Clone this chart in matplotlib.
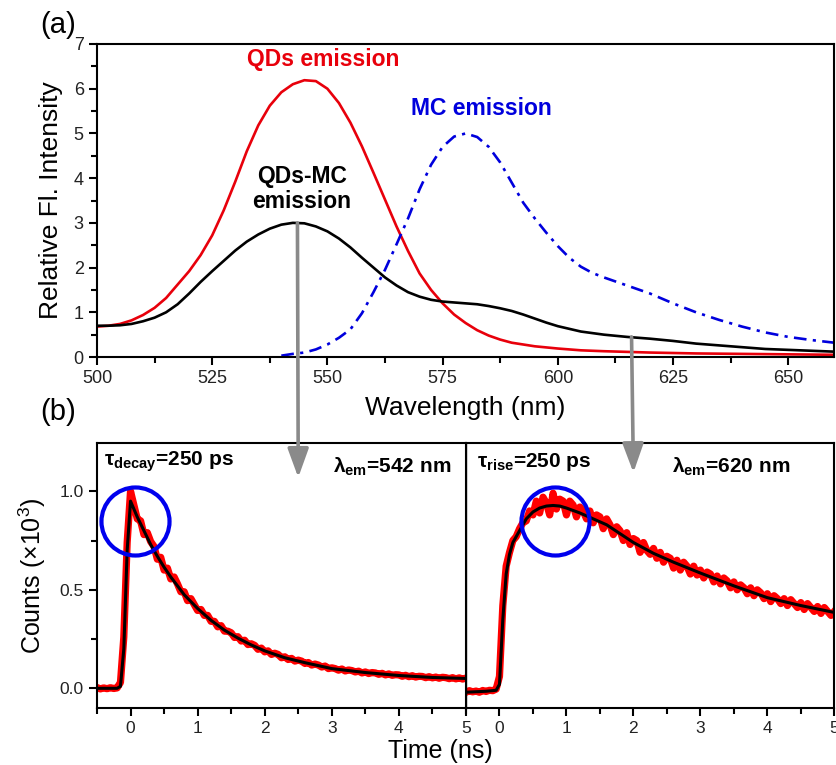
import numpy as np
import matplotlib
matplotlib.use('Agg')
import matplotlib.pyplot as plt
from matplotlib.patches import ConnectionPatch
from matplotlib.ticker import MultipleLocator

plt.rcParams['font.family'] = ['Liberation Sans', 'DejaVu Sans']
plt.rcParams['mathtext.fontset'] = 'custom'
plt.rcParams['mathtext.rm'] = 'Liberation Sans'
plt.rcParams['mathtext.it'] = 'Liberation Sans:italic'
plt.rcParams['mathtext.bf'] = 'Liberation Sans:bold'

# ---- (a) emission spectra ----
qd_wl = [500, 502.5, 505, 507.5, 510, 512.5, 515, 517.5, 520, 522.5, 525, 527.5, 530, 532.5,
         535, 537.5, 540, 542.5, 545, 547.5, 550, 552.5, 555, 557.5, 560, 562.5, 565, 567.5,
         570, 572.5, 575, 577.5, 580, 582.5, 585, 587.5, 590, 595, 600, 605, 610, 620, 630,
         640, 650, 660]
qd_int = [0.68, 0.70, 0.74, 0.82, 0.94, 1.1, 1.32, 1.62, 1.92, 2.28, 2.72, 3.28, 3.92, 4.6,
          5.18, 5.62, 5.92, 6.1, 6.19, 6.17, 6.0, 5.68, 5.24, 4.71, 4.12, 3.52, 2.92, 2.37,
          1.87, 1.5, 1.2, 0.95, 0.76, 0.6, 0.48, 0.39, 0.32, 0.24, 0.19, 0.15, 0.13, 0.1, 0.08,
          0.07, 0.06, 0.05]

mix_wl = [500, 502.5, 505, 507.5, 510, 512.5, 515, 517.5, 520, 522.5, 525, 527.5, 530, 532.5,
          535, 537.5, 540, 542.5, 545, 547.5, 550, 552.5, 555, 557.5, 560, 562.5, 565, 567.5,
          570, 572.5, 575, 577.5, 580, 582.5, 585, 587.5, 590, 592.5, 595, 597.5, 600, 605,
          610, 615, 620, 625, 630, 635, 640, 645, 650, 655, 660]
mix_int = [0.70, 0.70, 0.71, 0.74, 0.80, 0.88, 1.0, 1.18, 1.42, 1.68, 1.92, 2.15, 2.38, 2.58,
           2.74, 2.87, 2.96, 3.0, 2.99, 2.92, 2.81, 2.65, 2.45, 2.22, 2.0, 1.78, 1.6, 1.45,
           1.35, 1.28, 1.24, 1.22, 1.2, 1.18, 1.14, 1.09, 1.03, 0.95, 0.86, 0.77, 0.69, 0.57,
           0.5, 0.45, 0.41, 0.36, 0.3, 0.26, 0.22, 0.18, 0.16, 0.14, 0.12]

mc_wl = [540, 542.5, 545, 547.5, 550, 552.5, 555, 557.5, 560, 562.5, 565, 567.5, 570, 572.5,
         575, 577.5, 580, 582.5, 585, 587.5, 590, 592.5, 595, 597.5, 600, 602.5, 605, 607.5,
         610, 612.5, 615, 620, 625, 630, 635, 640, 645, 650, 655, 660]
mc_int = [0.03, 0.07, 0.1, 0.17, 0.28, 0.43, 0.62, 0.98, 1.45, 1.95, 2.52, 3.1, 3.75, 4.3,
          4.7, 4.93, 5.0, 4.92, 4.7, 4.35, 3.9, 3.45, 3.1, 2.78, 2.48, 2.22, 2.02, 1.88,
          1.78, 1.69, 1.6, 1.42, 1.2, 1.0, 0.83, 0.68, 0.55, 0.45, 0.38, 0.32]

# ---- (b) decay traces, sampled every 50 ps from -0.5 to 5 ns ----
decay_counts = [0.004, -0.003, 0.002, -0.002, 0.003, -0.001, 0.002, 0.03, 0.26, 0.74,
                1.00, 0.93, 0.86, 0.85, 0.78, 0.79, 0.745, 0.72, 0.655, 0.665,
                0.60, 0.61, 0.555, 0.565, 0.53, 0.49, 0.49, 0.445, 0.455, 0.425,
                0.395, 0.40, 0.37, 0.37, 0.34, 0.34, 0.312, 0.318, 0.29, 0.29,
                0.282, 0.258, 0.262, 0.24, 0.244, 0.222, 0.226, 0.218, 0.198, 0.204,
                0.185, 0.19, 0.172, 0.178, 0.172, 0.155, 0.16, 0.146, 0.152, 0.138,
                0.143, 0.138, 0.126, 0.131, 0.118, 0.123, 0.118, 0.108, 0.113, 0.10,
                0.104, 0.10, 0.092, 0.098, 0.088, 0.093, 0.09, 0.083, 0.087, 0.078,
                0.083, 0.075, 0.08, 0.078, 0.071, 0.076, 0.068, 0.073, 0.066, 0.069,
                0.068, 0.061, 0.066, 0.059, 0.064, 0.057, 0.061, 0.06, 0.054, 0.059,
                0.053, 0.057, 0.051, 0.056, 0.054, 0.049, 0.054, 0.048, 0.053, 0.047, 0.052]
rise_counts = [-0.02, -0.012, -0.018, -0.014, -0.02, -0.011, -0.016, -0.01, -0.012, -0.004,
               0.06, 0.42, 0.62, 0.69, 0.75, 0.77, 0.81, 0.84, 0.85, 0.90, 0.88,
               0.95, 0.89, 0.97, 0.94, 0.88, 0.99, 0.91, 0.96, 0.95, 0.88,
               0.95, 0.93, 0.87, 0.92, 0.90, 0.86, 0.90, 0.84, 0.88, 0.87,
               0.81, 0.86, 0.83, 0.78, 0.82, 0.80, 0.75, 0.79, 0.73, 0.76,
               0.75, 0.69, 0.74, 0.70, 0.68, 0.71, 0.66, 0.69, 0.64, 0.67,
               0.66, 0.61, 0.65, 0.60, 0.64, 0.62, 0.58, 0.62, 0.575, 0.60,
               0.56, 0.59, 0.58, 0.54, 0.57, 0.53, 0.56, 0.545, 0.51, 0.54,
               0.50, 0.525, 0.51, 0.48, 0.51, 0.47, 0.50, 0.485, 0.455, 0.48,
               0.44, 0.47, 0.455, 0.43, 0.455, 0.42, 0.45, 0.43, 0.41, 0.435,
               0.40, 0.43, 0.41, 0.39, 0.415, 0.38, 0.41, 0.39, 0.37, 0.39]
decay_t = np.linspace(-0.5, 5.0, len(decay_counts))
rise_t = np.linspace(-0.5, 5.0, len(rise_counts))

decay_fit_t = [-0.5, -0.2, -0.15, -0.1, -0.05, 0.0, 0.05, 0.1, 0.2, 0.3, 0.4, 0.5, 0.6, 0.7, 0.8,
               0.9, 1.0, 1.2, 1.4, 1.6, 1.8, 2.0, 2.3, 2.6, 3.0, 3.5, 4.0, 4.5, 5.0]
decay_fit = [0.0, 0.0, 0.01, 0.2, 0.7, 0.95, 0.91, 0.87, 0.80, 0.73, 0.67, 0.615, 0.565, 0.52, 0.475,
             0.44, 0.405, 0.345, 0.295, 0.255, 0.22, 0.19, 0.155, 0.13, 0.10, 0.08, 0.065, 0.055, 0.05]

rise_fit_t = [-0.5, -0.2, -0.05, 0.0, 0.05, 0.1, 0.15, 0.2, 0.3, 0.4, 0.5, 0.6, 0.7, 0.8, 0.9,
              1.0, 1.2, 1.4, 1.6, 1.8, 2.0, 2.3, 2.6, 3.0, 3.5, 4.0, 4.5, 5.0]
rise_fit = [-0.02, -0.015, -0.01, 0.02, 0.35, 0.58, 0.68, 0.74, 0.80, 0.86, 0.895, 0.915, 0.925, 0.928, 0.925,
            0.915, 0.89, 0.86, 0.83, 0.785, 0.74, 0.685, 0.64, 0.585, 0.52, 0.46, 0.42, 0.385]

fig = plt.figure(figsize=(8.36, 7.65), dpi=100)
ax_a = fig.add_axes([0.116, 0.5333, 0.882, 0.4092])
ax_b1 = fig.add_axes([0.116, 0.0745, 0.4414, 0.3464])
ax_b2 = fig.add_axes([0.5574, 0.0745, 0.4406, 0.3464])

ax_a.plot(qd_wl, qd_int, color='#e8000b', lw=1.9)
ax_a.plot(mix_wl, mix_int, color='black', lw=1.9)
ax_a.plot(mc_wl, mc_int, color='#0000dd', lw=1.9, linestyle=(0, (4.8, 2.4, 1.2, 2.4)))
ax_a.set_xlim(500, 660)
ax_a.set_ylim(0, 7)
ax_a.xaxis.set_major_locator(MultipleLocator(25))
ax_a.xaxis.set_minor_locator(MultipleLocator(12.5))
ax_a.yaxis.set_major_locator(MultipleLocator(1))
ax_a.yaxis.set_minor_locator(MultipleLocator(0.5))
ax_a.set_xlabel('Wavelength (nm)', fontsize=19, labelpad=6)
ax_a.set_ylabel('Relative Fl. Intensity', fontsize=19, labelpad=8)
ax_a.text(549, 6.65, 'QDs emission', color='#e8000b', fontsize=16.5, fontweight='bold', ha='center', va='center')
ax_a.text(583.5, 5.55, 'MC emission', color='#0000dd', fontsize=16.5, fontweight='bold', ha='center', va='center')
ax_a.text(544.5, 3.75, 'QDs-MC\nemission', color='black', fontsize=16.5, fontweight='bold',
          ha='center', va='center', linespacing=1.1)

for ax, tt, counts, ft, fv in [(ax_b1, decay_t, decay_counts, decay_fit_t, decay_fit),
                               (ax_b2, rise_t, rise_counts, rise_fit_t, rise_fit)]:
    ax.plot(tt, counts, color='#ff0000', lw=5.2, solid_joinstyle='round')
    ax.plot(ft, fv, color='black', lw=2.2)
    ax.set_xlim(-0.5, 5.0)
    ax.set_ylim(-0.1, 1.245)
    ax.xaxis.set_major_locator(MultipleLocator(1))
    ax.xaxis.set_minor_locator(MultipleLocator(0.5))
    ax.yaxis.set_major_locator(MultipleLocator(0.5))
    ax.yaxis.set_minor_locator(MultipleLocator(0.25))

circle_t = [0.07, 0.83]
circle_y = [0.85, 0.85]
ax_b1.plot(circle_t[0], circle_y[0], 'o', ms=49, mfc='none', mec='#0000ee', mew=3)
ax_b2.plot(circle_t[1], circle_y[1], 'o', ms=49, mfc='none', mec='#0000ee', mew=3)

ax_b1.set_ylabel('Counts ($\\times$10$^3$)', fontsize=18, labelpad=8)
ax_b2.tick_params(axis='y', left=False, labelleft=False, which='both')
fig.text(0.527, 0.018, 'Time (ns)', fontsize=18, ha='center', va='center')

ax_b1.text(0.02, 0.93, '\u03c4$_{\\mathbf{decay}}$=250 ps', transform=ax_b1.transAxes,
           fontsize=15, fontweight='bold', va='center')
ax_b1.text(0.64, 0.91, '\u03bb$_{\\mathbf{em}}$=542 nm', transform=ax_b1.transAxes,
           fontsize=15, fontweight='bold', va='center')
ax_b2.text(0.03, 0.93, '\u03c4$_{\\mathbf{rise}}$=250 ps', transform=ax_b2.transAxes,
           fontsize=15, fontweight='bold', va='center')
ax_b2.text(0.56, 0.91, '\u03bb$_{\\mathbf{em}}$=620 nm', transform=ax_b2.transAxes,
           fontsize=15, fontweight='bold', va='center')

for ax in (ax_a, ax_b1, ax_b2):
    for s in ax.spines.values():
        s.set_linewidth(1.5)
    ax.tick_params(which='major', direction='out', length=6, width=1.5, labelsize=13, colors='black')
    ax.tick_params(which='minor', direction='out', length=4, width=1.5)
    ax.tick_params(axis='both', labelcolor='#222222')
for ax in (ax_b1, ax_b2):
    ax.tick_params(labelsize=12.5)
ax_b2.spines['left'].set_linewidth(1.0)

fig.text(0.048, 0.967, '(a)', fontsize=21, ha='left', va='center')
fig.text(0.048, 0.462, '(b)', fontsize=21, ha='left', va='center')

# gray arrows linking the spectrum to each decay
arrow_src = [(543.5, 3.0), (616, 0.45)]
arrow_dst = [(2.5, 1.07), (2.0, 1.095)]
for (sx, sy), (dx, dy), dax in zip(arrow_src, arrow_dst, (ax_b1, ax_b2)):
    con = ConnectionPatch(xyA=(sx, sy), coordsA=ax_a.transData,
                          xyB=(dx, dy), coordsB=dax.transData,
                          arrowstyle='-|>,head_length=1.1,head_width=0.4', mutation_scale=16,
                          color='#8a8a8a', lw=2.6, shrinkA=0, shrinkB=0)
    fig.add_artist(con)

fig.savefig('out.png', dpi=100)
